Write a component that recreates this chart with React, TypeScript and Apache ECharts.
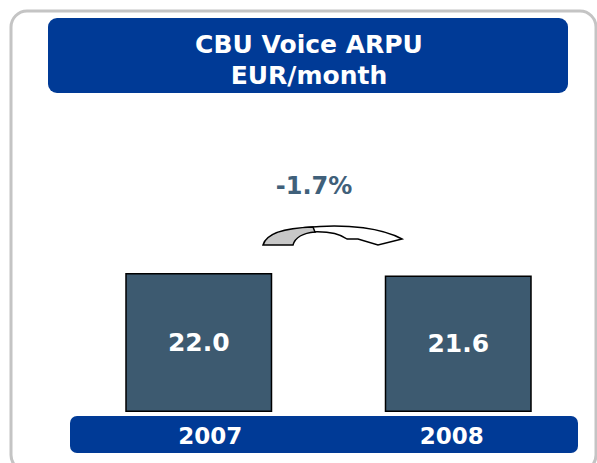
import React, { useEffect, useRef } from "react";
import * as echarts from "echarts";

const categories = ["2007", "2008"];
const arpuValues = [22.0, 21.6];
const changeLabel = "-1.7%";
const titleLines = ["CBU Voice ARPU", "EUR/month"];

const FONT = "'DejaVu Sans', Verdana, sans-serif";
const BLUE = "#003A96";
const SLATE = "#3D5A70";

const TAIL = "M8 25 C11 14 28 8 58 7 L60 12 C48 13 40 18 38 25 Z";
const HEAD = "M50 7.5 C95 3 128 9 147 19 L123 25 L103 19 L92 19 C85 14 74 11 56 12 Z";

let registered = false;
function registerShapes() {
  if (registered) return;
  echarts.graphic.registerShape("arrowTail", echarts.graphic.extendPath(TAIL, {}) as any);
  echarts.graphic.registerShape("arrowHead", echarts.graphic.extendPath(HEAD, {}) as any);
  registered = true;
}

export default function App() {
  const ref = useRef<HTMLDivElement>(null);
  useEffect(() => {
    if (!ref.current) return;
    registerShapes();
    const chart = echarts.init(ref.current, null, { renderer: "svg" });
    const labelPads: Record<string, number[]> = {
      "2007": [0, 0, 0, 23],
      "2008": [0, 13, 0, 0],
    };
    chart.setOption({
      animation: false,
      backgroundColor: "#ffffff",
      textStyle: { fontFamily: FONT },
      grid: { left: 69, right: 9, top: 222.5, bottom: 51 },
      xAxis: {
        type: "category",
        data: categories,
        z: 10,
        axisLine: { show: false },
        axisTick: { show: false },
        axisLabel: {
          margin: 12,
          formatter: (v: string) => `{${v === "2007" ? "a" : "b"}|${v}}`,
          rich: {
            a: {
              color: "#ffffff",
              fontSize: 23,
              fontWeight: "bold",
              fontFamily: FONT,
              lineHeight: 23,
              padding: labelPads["2007"],
            },
            b: {
              color: "#ffffff",
              fontSize: 23,
              fontWeight: "bold",
              fontFamily: FONT,
              lineHeight: 23,
              padding: labelPads["2008"],
            },
          },
        },
      },
      yAxis: {
        type: "value",
        min: 0,
        max: 30,
        show: false,
        splitLine: { show: false },
      },
      series: [
        {
          type: "bar",
          data: arpuValues,
          barWidth: 147,
          itemStyle: { color: SLATE, borderColor: "#000000", borderWidth: 1.5 },
          label: {
            show: true,
            position: "inside",
            color: "#ffffff",
            fontSize: 25,
            fontWeight: "bold",
            fontFamily: FONT,
            formatter: (p: any) => Number(p.value).toFixed(1),
          },
        },
      ],
      graphic: [
        {
          type: "rect",
          z: -10,
          shape: { x: 11, y: 11, width: 585, height: 460, r: 16 },
          style: { fill: "#ffffff", stroke: "#C4C4C4", lineWidth: 3 },
          silent: true,
        },
        {
          type: "rect",
          z: 1,
          shape: { x: 48, y: 18, width: 520, height: 75, r: 9 },
          style: { fill: BLUE },
        },
        {
          type: "text",
          z: 2,
          x: 309,
          y: 44,
          style: {
            text: titleLines[0],
            fill: "#ffffff",
            font: `bold 25px ${FONT}`,
            textAlign: "center",
            textVerticalAlign: "middle",
          },
        },
        {
          type: "text",
          z: 2,
          x: 309,
          y: 75,
          style: {
            text: titleLines[1],
            fill: "#ffffff",
            font: `bold 25px ${FONT}`,
            textAlign: "center",
            textVerticalAlign: "middle",
          },
        },
        {
          type: "text",
          z: 2,
          x: 314,
          y: 186,
          style: {
            text: changeLabel,
            fill: "#40607A",
            font: `bold 24px ${FONT}`,
            textAlign: "center",
            textVerticalAlign: "middle",
          },
        },
        {
          type: "rect",
          z: 1,
          shape: { x: 70, y: 416, width: 508, height: 37, r: 7 },
          style: { fill: BLUE },
        },
        {
          type: "arrowHead",
          z: 3,
          x: 255,
          y: 220,
          style: { fill: "#ffffff", stroke: "#000000", lineWidth: 1.5 },
        },
        {
          type: "arrowTail",
          z: 4,
          x: 255,
          y: 220,
          style: { fill: "#C8C8C8", stroke: "#000000", lineWidth: 1.5 },
        },
      ],
    });
    return () => chart.dispose();
  }, []);
  return <div ref={ref} style={{ width: 597, height: 463, position: "absolute", left: 0, top: 0 }} />;
}
